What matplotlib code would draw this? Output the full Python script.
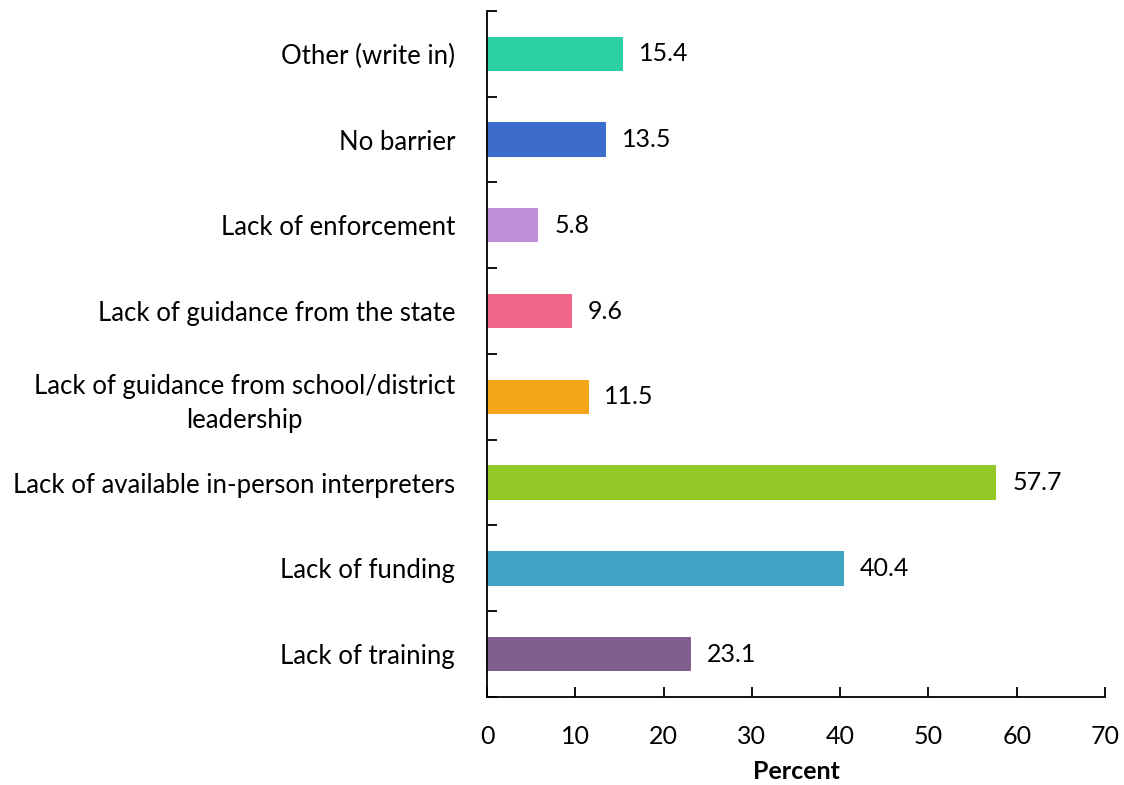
import matplotlib
matplotlib.use('Agg')
import matplotlib.pyplot as plt
import numpy as np

plt.rcParams['font.family'] = ['Lato', 'DejaVu Sans']

categories = ['Lack of training', 'Lack of funding', 'Lack of available in-person interpreters',
              'Lack of guidance from school/district\nleadership', 'Lack of guidance from the state',
              'Lack of enforcement', 'No barrier', 'Other (write in)']
values = [23.1, 40.4, 57.7, 11.5, 9.6, 5.8, 13.5, 15.4]
colors = ['#7E5F8E', '#40A4C4', '#93C926', '#F5A51A', '#F06688', '#C090DA', '#3D6DCC', '#2DD0A5']

fig = plt.figure(figsize=(11.24, 7.85), dpi=100)
ax = fig.add_axes([0.4333, 0.1121, 0.5498, 0.8740])

y = np.arange(len(categories))
ax.barh(y, values, height=0.4, color=colors)
for yi, v in zip(y, values):
    ax.text(v + 1.8, yi, f'{v:.1f}', va='center', ha='left', fontsize=18)

ax.set_xlim(0, 70)
ax.set_ylim(-0.5, len(categories) - 0.5)
ax.set_xticks(range(0, 71, 10))
ax.set_yticks(y)
ax.set_yticklabels(categories, fontsize=18.5, multialignment='center', linespacing=1.45)
ax.set_yticks(np.arange(-0.5, len(categories)), minor=True)
ax.tick_params(axis='y', which='major', length=0, pad=23)
ax.tick_params(axis='y', which='minor', direction='in', length=7, width=1.3)
ax.tick_params(axis='x', direction='in', length=7, width=1.3, labelsize=18, pad=20)

ax.spines['top'].set_visible(False)
ax.spines['right'].set_visible(False)
ax.spines['left'].set_linewidth(1.3)
ax.spines['bottom'].set_linewidth(1.3)
ax.set_xlabel('Percent', fontsize=18, fontweight='bold', labelpad=9)

fig.savefig('out.png', dpi=100)
